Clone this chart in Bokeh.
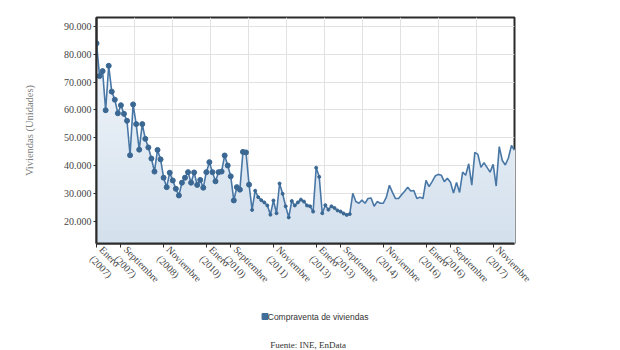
import numpy as np
from bokeh.plotting import figure
from bokeh.layouts import column
from bokeh.models import ColumnDataSource, FixedTicker, Range1d, Label
from bokeh.embed import file_html
from bokeh.resources import INLINE

# Monthly home sales (units), January 2007 onwards
ventas = [
    84000, 72200, 74000, 59900, 75900, 66600, 63700, 58800, 61700, 58600, 56100, 43700,
    62000, 54900, 45700, 54900, 49600, 46500, 42500, 37800, 45600, 42200, 35600, 32200,
    37400, 34600, 31600, 29200, 33800, 35600, 37600, 33800, 37500, 33000, 34800, 32000,
    37600, 41200, 37600, 34300, 37600, 37800, 43600, 40000, 36100, 27400, 32200, 31300,
    44900, 44700, 33100, 24000, 30900, 28600, 27500, 26700, 25600, 22300, 27400, 22800,
    33500, 29800, 25300, 21300, 27200, 25600, 26700, 27700, 27000, 25600, 25300, 23400,
    39200, 35900, 22800, 25700, 24100, 25300, 24700, 23800, 23400, 22700, 22200, 22500,
    30000, 27000, 26400, 27500, 26400, 28100, 28300, 25300, 27000, 26400, 26400, 28600,
    32900, 30300, 28100, 28100, 29500, 30700, 32200, 30800, 31000, 28100, 28600, 28100,
    34600, 32400, 34200, 36200, 36800, 36500, 34200, 35400, 34000, 30100, 33900, 30300,
    37600, 36500, 40600, 32900, 44700, 44000, 39300, 41000, 39300, 37600, 40400, 32600,
    46800, 41800, 40200, 42700, 47200, 45500,
]

# Labelled months on the time axis (index from January 2007)
tick_idx = [0, 8, 22, 36, 44, 58, 72, 80, 94, 108, 116, 130]
tick_labels = ["Enero\n(2007)", "Septiembre\n(2007)", "Noviembre\n(2008)", "Enero\n(2010)",
               "Septiembre\n(2010)", "Noviembre\n(2011)", "Enero\n(2013)", "Septiembre\n(2013)",
               "Noviembre\n(2014)", "Enero\n(2016)", "Septiembre\n(2016)", "Noviembre\n(2017)"]

y_ticks = [20000, 30000, 40000, 50000, 60000, 70000, 80000, 90000]

serie = "Compraventa de viviendas"
fuente = "Fuente: INE, EnData"

x = np.arange(len(ventas))
y = np.array(ventas, dtype=float)
y_lo, y_hi = 11900, 93300

W, H_MAIN, H_FOOT = 620, 305, 45

p = figure(width=W, height=H_MAIN, output_backend="svg", toolbar_location=None,
           x_range=Range1d(0, len(ventas) - 1), y_range=Range1d(y_lo, y_hi),
           min_border_left=96, min_border_right=106, min_border_top=17, min_border_bottom=47)
p.background_fill_color = "white"
p.border_fill_color = "white"
p.outline_line_color = "#2b2b2b"
p.outline_line_width = 2

# vertical gradient under the curve: light at the top, bluer at the bottom
c_top = np.array([0xf5, 0xf8, 0xfc])
c_bot = np.array([0xd3, 0xe0, 0xed])
levels = np.linspace(y_hi, y_lo + 1500, 28)
for lv in levels:
    t = (lv - y_lo) / (y_hi - y_lo)
    c = (c_bot + (c_top - c_bot) * t).astype(int)
    col = "#%02x%02x%02x" % tuple(c)
    p.varea(x=x, y1=y_lo, y2=np.minimum(y, lv), fill_color=col)

src = ColumnDataSource(dict(x=x, y=y))
p.line("x", "y", source=src, line_color="#4877a6", line_width=1.6)

# markers on the early part of the series
big = x <= 50
small = (x > 50) & (x <= 83)
p.scatter(x[big], y[big], size=5, color="#3b6893")
p.scatter(x[small], y[small], size=3, color="#3b6893")

# axes
p.xaxis.ticker = FixedTicker(ticks=tick_idx)
p.xaxis.major_label_overrides = {i: s for i, s in zip(tick_idx, tick_labels)}
p.xaxis.major_label_orientation = -0.8
p.xaxis.minor_tick_line_color = None
p.xaxis.major_tick_out = 4
p.xaxis.major_tick_in = 0

p.yaxis.ticker = FixedTicker(ticks=y_ticks)
p.yaxis.major_label_overrides = {v: f"{v:,}".replace(",", ".") for v in y_ticks}
p.yaxis.minor_tick_line_color = None
p.yaxis.major_tick_out = 3
p.yaxis.major_tick_in = 0
p.yaxis.major_label_standoff = 2
p.yaxis.axis_label = "Viviendas (Unidades)"
p.yaxis.axis_label_standoff = 26
p.yaxis.axis_label_text_font = "Liberation Serif"
p.yaxis.axis_label_text_font_style = "normal"
p.yaxis.axis_label_text_font_size = "10.5px"
p.yaxis.axis_label_text_color = "#808080"

for ax in (p.xaxis, p.yaxis):
    ax.axis_line_color = "#2b2b2b"
    ax.axis_line_width = 2
    ax.major_tick_line_color = "#2b2b2b"
    ax.major_label_text_font = "Liberation Serif"
    ax.major_label_text_font_size = "10px"
    ax.major_label_text_color = "#444444"

p.xgrid.ticker = FixedTicker(ticks=list(np.linspace(0, len(ventas) - 1, 12)[1:-1]))
p.ygrid.ticker = FixedTicker(ticks=y_ticks)
p.xgrid.grid_line_color = "#e2e2e2"
p.ygrid.grid_line_color = "#e2e2e2"

# footer strip: series key and data source note (pixel coordinates)
foot = figure(width=W, height=H_FOOT, output_backend="svg", toolbar_location=None,
              x_range=Range1d(0, W), y_range=Range1d(0, H_FOOT),
              min_border=0, outline_line_color=None)
foot.axis.visible = False
foot.grid.visible = False
foot.background_fill_color = "white"
foot.border_fill_color = "white"

key_y = 34
foot.scatter(x=[250], y=[key_y], marker="square", size=6, color="#3f6e9a")
foot.add_layout(Label(x=254, y=key_y, text=serie,
                      text_align="left", text_baseline="middle",
                      text_font="Liberation Sans", text_font_size="8.5px",
                      text_color="#333333"))

foot.add_layout(Label(x=W / 2 + 4, y=6, text=fuente,
                      text_align="center", text_baseline="middle",
                      text_font="Liberation Serif", text_font_size="9px",
                      text_color="#333333"))

layout = column(p, foot, spacing=0)
open("out.html", "w").write(file_html(layout, INLINE))
